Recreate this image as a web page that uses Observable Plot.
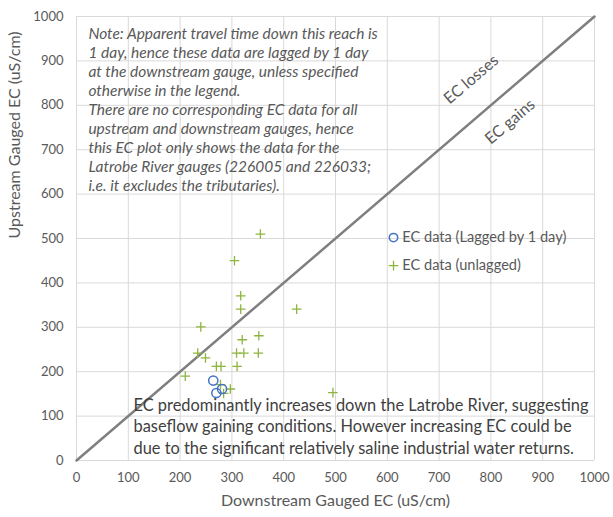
<!DOCTYPE html>
<html><head><meta charset="utf-8">
<script src="https://cdn.jsdelivr.net/npm/d3@7"></script>
<script src="https://cdn.jsdelivr.net/npm/@observablehq/plot@0.6"></script>
<style>body{margin:0;background:#fff}</style>
</head><body><div id="chart"></div>
<script>
// EC data lagged by 1 day
const laggedX = [264, 281, 270];
const laggedY = [180, 161, 152];
// EC data unlagged
const unlaggedX = [355, 305, 317, 317, 425, 240, 352, 320, 234, 249, 309, 323, 351, 270, 279, 310, 210, 278, 297, 284, 495];
const unlaggedY = [510, 450, 371, 341, 341, 301, 281, 272, 242, 231, 242, 242, 242, 212, 212, 212, 190, 171, 161, 151, 153];
const tickValues = [0, 100, 200, 300, 400, 500, 600, 700, 800, 900, 1000];
const seriesNames = ["EC data (Lagged by 1 day)", "EC data (unlagged)"];
const noteText = "Note: Apparent travel time down this reach is\n1 day, hence these data are lagged by 1 day\nat the downstream gauge, unless specified\notherwise in the legend.\nThere are no corresponding EC data for all\nupstream and downstream gauges, hence\nthis EC plot only shows the data for the\nLatrobe River gauges (226005 and 226033;\ni.e. it excludes the tributaries).";
const commentText = "EC predominantly increases down the Latrobe River, suggesting\nbaseflow gaining conditions. However increasing EC could be\ndue to the significant relatively saline industrial water returns.";
const xTitle = "Downstream Gauged EC (uS/cm)";
const yTitle = "Upstream Gauged EC (uS/cm)";

const lagged = laggedX.map((x, i) => ({x, y: laggedY[i]}));
const unlagged = unlaggedX.map((x, i) => ({x, y: unlaggedY[i]}));
const diagonal = [{x: 0, y: 0}, {x: 1000, y: 1000}];

const blue = "#4472c4", green = "#8db53f", grey = "#595959";

const chart = Plot.plot({
  width: 613, height: 517,
  marginLeft: 76, marginRight: 19, marginTop: 16, marginBottom: 57,
  style: {fontFamily: "Lato", fontSize: "13px", color: grey, background: "#fff"},
  x: {domain: [0, 1000]},
  y: {domain: [0, 1000]},
  marks: [
    Plot.gridX(tickValues, {stroke: "#d9d9d9", strokeOpacity: 1}),
    Plot.gridY(tickValues, {stroke: "#d9d9d9", strokeOpacity: 1}),
    Plot.axisX(tickValues, {tickSize: 0, tickPadding: 12, label: null, tickFormat: d => String(d), fontSize: 13, fill: grey}),
    Plot.axisY(tickValues, {tickSize: 0, tickPadding: 13, label: null, tickFormat: d => String(d), fontSize: 13, fill: grey}),
    Plot.text([xTitle], {frameAnchor: "bottom", dy: 45, text: d => d, fontSize: 16, fill: grey}),
    Plot.text([yTitle], {frameAnchor: "left", dx: -62, rotate: -90, text: d => d, fontSize: 16, fill: grey}),
    Plot.line(diagonal, {x: "x", y: "y", stroke: "#7f7f7f", strokeWidth: 2.5}),
    Plot.text(["EC losses"], {x: 762, y: 858, text: d => d, rotate: -40.6, fontSize: 16, fill: grey}),
    Plot.text(["EC gains"], {x: 837, y: 763, text: d => d, rotate: -40.6, fontSize: 16, fill: grey}),
    Plot.text([noteText], {x: 23, y: 979, text: d => d, textAnchor: "start", lineAnchor: "top", lineHeight: 1.22, fontStyle: "italic", fontSize: 15.5, fill: grey}),
    Plot.text([commentText], {x: 110, y: 146, text: d => d, textAnchor: "start", lineAnchor: "top", lineHeight: 1.31, fontSize: 16.4, fill: "#404040"}),
    Plot.dot(unlagged, {x: "x", y: "y", symbol: "plus", r: 3.2, stroke: green, strokeWidth: 1.3}),
    Plot.dot(lagged, {x: "x", y: "y", symbol: "circle", r: 4.6, stroke: blue, strokeWidth: 1.5, fill: "none"}),
    // legend
    Plot.dot([seriesNames[0]], {x: 612, y: 502, symbol: "circle", r: 4.2, stroke: blue, strokeWidth: 1.5}),
    Plot.dot([seriesNames[1]], {x: 612, y: 439, symbol: "plus", r: 3.2, stroke: green, strokeWidth: 1.3}),
    Plot.text([seriesNames[0]], {x: 629, y: 502, text: d => d, textAnchor: "start", fontSize: 14.6, fill: grey}),
    Plot.text([seriesNames[1]], {x: 629, y: 439, text: d => d, textAnchor: "start", fontSize: 14.6, fill: grey})
  ]
});
document.getElementById("chart").appendChild(chart);
</script>
</body></html>
